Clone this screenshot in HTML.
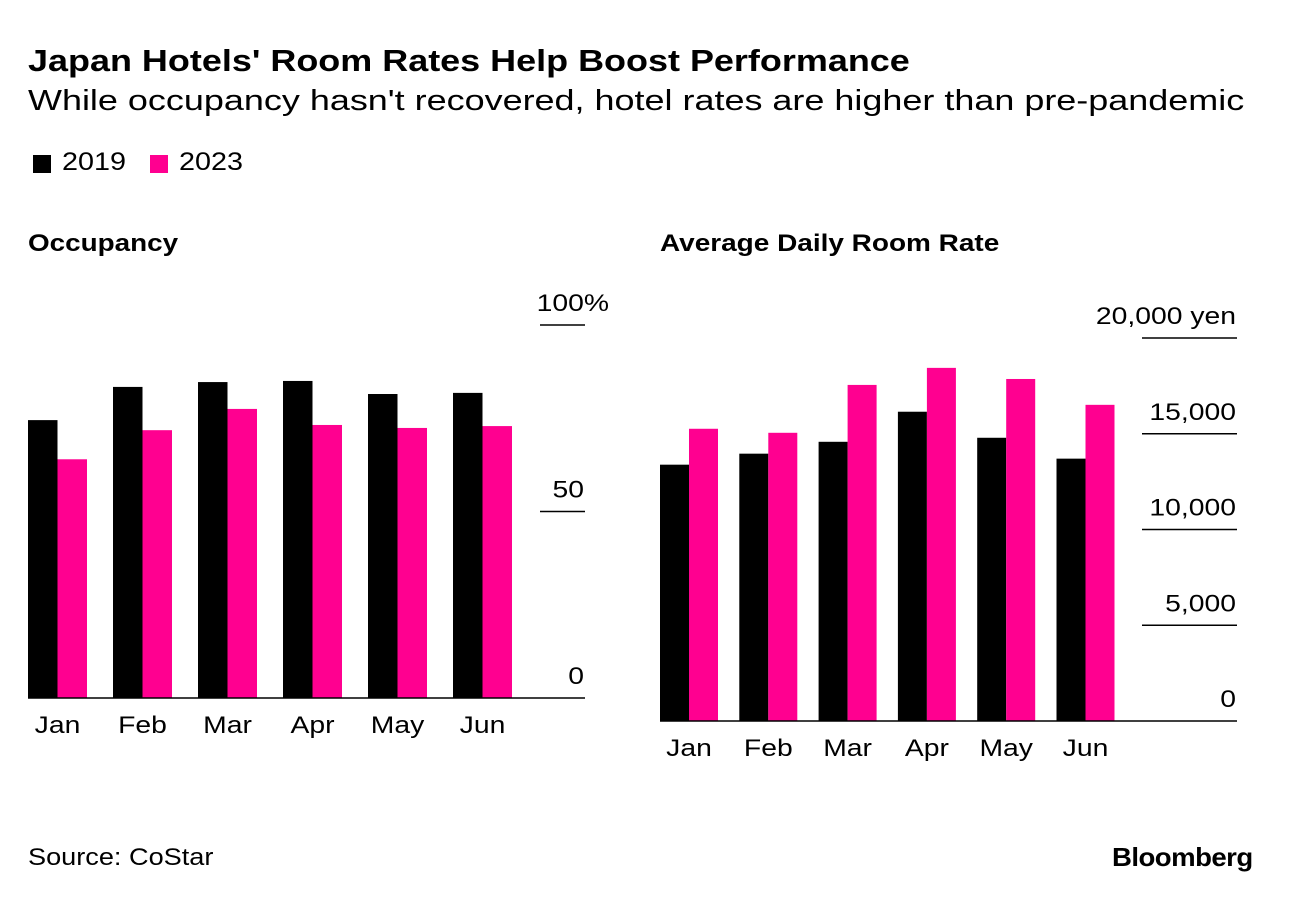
<!DOCTYPE html>
<html><head><meta charset="utf-8"><style>
body{margin:0;width:1293px;height:900px;background:#fff;font-family:"Liberation Sans",sans-serif;overflow:hidden;position:relative}
.t{position:absolute;white-space:nowrap;color:#000;transform-origin:0 0}
</style></head><body>
<div class="t" style="left:28px;top:43px;font-size:31px;font-weight:bold;transform:scaleX(1.16)">Japan Hotels' Room Rates Help Boost Performance</div>
<div class="t" style="left:28px;top:85px;font-size:29px;transform:scaleX(1.24)">While occupancy hasn't recovered, hotel rates are higher than pre-pandemic</div>
<div style="position:absolute;left:0;top:0;font-size:25px">
<span><span style="position:absolute;left:33px;top:155px;width:18px;height:18px;background:#000"></span><span class="t" style="left:62px;top:148px;transform:scaleX(1.15)">2019</span></span>
<span><span style="position:absolute;left:150px;top:155px;width:18px;height:18px;background:#ff0090"></span><span class="t" style="left:179px;top:148px;transform:scaleX(1.15)">2023</span></span>
</div>
<div class="t" style="left:28px;top:230px;font-size:24px;font-weight:bold;transform:scaleX(1.16)">Occupancy</div>
<div class="t" style="left:660px;top:230px;font-size:24px;font-weight:bold;transform:scaleX(1.165)">Average Daily Room Rate</div>
<div class="t" style="left:28px;top:844px;font-size:24px;transform:scaleX(1.13)">Source: CoStar</div>
<div class="t" style="left:1112px;top:842px;font-size:26px;font-weight:bold;letter-spacing:-0.5px;transform:scaleX(1.06)">Bloomberg</div>
<svg id="s" width="1293" height="900" style="position:absolute;left:0;top:0"></svg>
<script>
const months=["Jan","Feb","Mar","Apr","May","Jun"];
const occ2019=[74.5,83.4,84.7,85,81.5,81.8];
const occ2023=[64,71.8,77.5,73.2,72.4,72.9];
const adr2019=[13385,13960,14580,16150,14790,13700];
const adr2023=[15260,15050,17550,18440,17860,16510];
const occTicks=[0,50,100];
const occTickLabels=["0","50","100%"];
const adrTicks=[0,5000,10000,15000,20000];
const adrTickLabels=["0","5,000","10,000","15,000","20,000 yen"];
const svg=document.getElementById('s');
const NS="http://www.w3.org/2000/svg";
function mk(t,a,txt){const e=document.createElementNS(NS,t);for(const k in a)e.setAttribute(k,a[k]);if(txt!==undefined)e.textContent=txt;svg.appendChild(e);return e;}
function txt(x,y,anchor,s){return mk('text',{x:0,y:0,transform:`translate(${x},${y}) scale(1.18,1)`,'text-anchor':anchor,'font-size':24,'font-family':'Liberation Sans'},s);}
function panel(cfg){
  const y=v=>cfg.base-(v/cfg.max)*(cfg.base-cfg.top);
  cfg.ticks.forEach((t,i)=>{
    const ty=y(t);
    if(t>0){const l=mk('line',{x1:cfg.tx1,x2:cfg.x1,y1:ty,y2:ty,stroke:'#000','stroke-width':1.5});
    
    }
    const lab=cfg.labels[i];
    const off=lab.endsWith('%')?25:0;
    const tx=txt(cfg.x1-1+off,ty-14,'end',lab);
    
    
  });
  months.forEach((m,i)=>{
    const x=cfg.x0+i*cfg.step;
    const b1=mk('rect',{x:x,y:y(cfg.a[i]),width:cfg.bw,height:cfg.base-y(cfg.a[i]),fill:'#000'});
    
    
    const b2=mk('rect',{x:x+cfg.bw,y:y(cfg.b[i]),width:cfg.bw,height:cfg.base-y(cfg.b[i]),fill:'#ff0090'});
    
    
    const lt=txt(x+cfg.bw,cfg.base+35,'middle',m);
    
    
  });
  const ax=mk('line',{x1:cfg.x0,x2:cfg.x1,y1:cfg.base,y2:cfg.base,stroke:'#000','stroke-width':1.5});
  
  
}
panel({id:'occupancy',a:occ2019,b:occ2023,ticks:occTicks,labels:occTickLabels,max:100,base:698,top:325,x0:28,x1:585,tx1:540,step:85,bw:29.5});
panel({id:'adr',a:adr2019,b:adr2023,ticks:adrTicks,labels:adrTickLabels,max:20000,base:721,top:338,x0:660,x1:1237,tx1:1142,step:79.3,bw:29});
</script>
</body></html>
